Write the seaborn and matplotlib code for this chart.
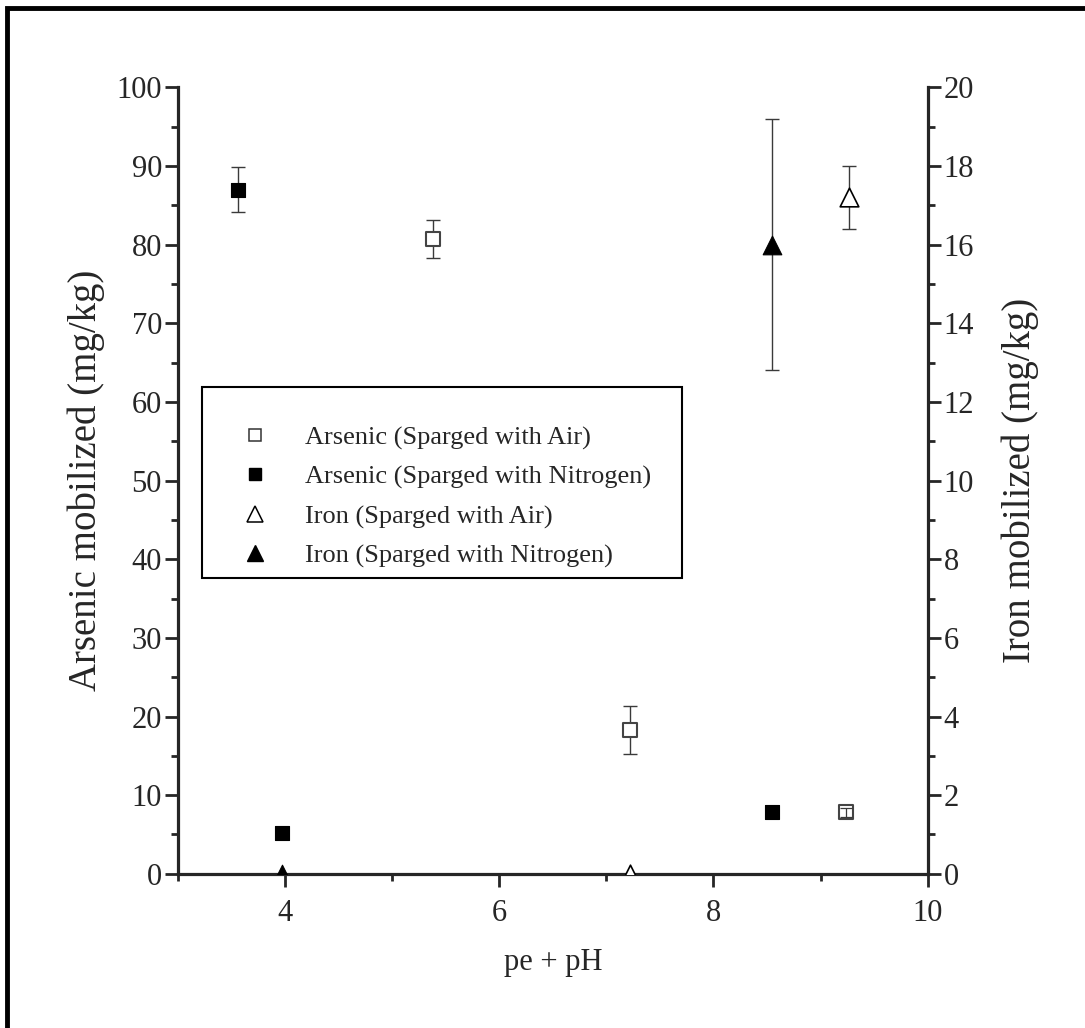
import matplotlib
matplotlib.use("Agg")
import matplotlib.pyplot as plt
import seaborn as sns
import pandas as pd
from matplotlib.patches import Rectangle
from matplotlib.lines import Line2D
from matplotlib.ticker import MultipleLocator

sns.set_style("ticks")
plt.rcParams['font.family'] = ['Liberation Serif', 'DejaVu Serif']

# Data
as_air_x = [5.38, 7.22, 9.24]
as_air_y = [80.7, 18.3, 7.8]
as_air_err = [2.4, 3.1, 0.6]

as_n2_x = [3.56, 3.97, 8.55]
as_n2_y = [87.0, 5.2, 7.8]
as_n2_err = [2.9, 0.0, 0.0]

fe_air_x = [9.27, 7.22]
fe_air_y = [17.2, 0.0]
fe_air_err = [0.8, 0.0]

fe_n2_x = [8.55, 3.97]
fe_n2_y = [16.0, 0.0]
fe_n2_err = [3.2, 0.0]

labels = ["Arsenic (Sparged with Air)", "Arsenic (Sparged with Nitrogen)",
          "Iron (Sparged with Air)", "Iron (Sparged with Nitrogen)"]

fig = plt.figure(figsize=(10.85, 10.28), dpi=100)
ax = fig.add_axes([0.164, 0.150, 0.691, 0.765])
ax2 = ax.twinx()


def draw_err(a, xs, ys, es, small_over=False):
    pts = [(x, y, e) for x, y, e in zip(xs, ys, es) if e > 0]
    for x, y, e in pts:
        if small_over and e < 1.0:
            a.errorbar([x], [y], yerr=[e], fmt='none', ecolor='#3a3a3a', elinewidth=0.9,
                       capsize=4.0, capthick=0.9, zorder=4)
        else:
            a.errorbar([x], [y], yerr=[e], fmt='none', ecolor='#3a3a3a', elinewidth=1.0,
                       capsize=4.7, capthick=1.0, zorder=1)


draw_err(ax, as_air_x, as_air_y, as_air_err, small_over=True)
draw_err(ax, as_n2_x, as_n2_y, as_n2_err)
draw_err(ax2, fe_air_x, fe_air_y, fe_air_err)
draw_err(ax2, fe_n2_x, fe_n2_y, fe_n2_err)

df_as_air = pd.DataFrame({"x": as_air_x, "y": as_air_y})
df_as_n2 = pd.DataFrame({"x": as_n2_x, "y": as_n2_y})
df_fe_air = pd.DataFrame({"x": fe_air_x, "y": fe_air_y})
df_fe_n2 = pd.DataFrame({"x": fe_n2_x, "y": fe_n2_y})

sns.scatterplot(data=df_as_air, x="x", y="y", ax=ax, marker='s', s=100,
                facecolor='white', edgecolor='#444444', linewidth=1.5, zorder=3)
sns.scatterplot(data=df_as_n2, x="x", y="y", ax=ax, marker='s', s=100,
                color='black', edgecolor='black', linewidth=0.8, zorder=3)
sns.scatterplot(data=df_fe_air, x="x", y="y", ax=ax2, marker='^', s=180,
                facecolor='white', edgecolor='black', linewidth=1.2, zorder=3)
sns.scatterplot(data=df_fe_n2, x="x", y="y", ax=ax2, marker='^', s=180,
                color='black', edgecolor='black', linewidth=0.8, zorder=3)

ax.set_xlim(3, 10)
ax.set_ylim(0, 100)
ax2.set_ylim(0, 20)
ax.xaxis.set_major_locator(MultipleLocator(2))
ax.xaxis.set_minor_locator(MultipleLocator(1))
ax.yaxis.set_major_locator(MultipleLocator(10))
ax.yaxis.set_minor_locator(MultipleLocator(5))
ax2.yaxis.set_major_locator(MultipleLocator(2))
ax2.yaxis.set_minor_locator(MultipleLocator(1))

for a in (ax, ax2):
    for s in a.spines.values():
        s.set_linewidth(2.3)
    a.spines['top'].set_visible(False)
    a.tick_params(which='major', length=9.5, width=2.0, labelsize=22, pad=2)
    a.tick_params(which='minor', length=5.0, width=2.0)
ax.spines['right'].set_visible(False)
ax2.spines['left'].set_visible(False)
ax2.spines['bottom'].set_visible(False)
ax.tick_params(axis='x', which='major', pad=9)

ax.set_xlabel("pe + pH", fontsize=22, labelpad=14)
ax.set_ylabel("Arsenic mobilized (mg/kg)", fontsize=28, labelpad=8)
ax2.set_ylabel("Iron mobilized (mg/kg)", fontsize=28, labelpad=20)

# legend box
box = Rectangle((0.032, 0.376), 0.64, 0.243, transform=ax2.transAxes, facecolor='white',
                edgecolor='black', linewidth=1.5, zorder=5)
ax2.add_patch(box)

handles = [
    Line2D([], [], marker='s', linestyle='none', markersize=8.6, markerfacecolor='white', markeredgecolor='#333333', markeredgewidth=1.1),
    Line2D([], [], marker='s', linestyle='none', markersize=8.6, markerfacecolor='black', markeredgecolor='black'),
    Line2D([], [], marker='^', linestyle='none', markersize=11, markerfacecolor='white', markeredgecolor='black', markeredgewidth=1.1),
    Line2D([], [], marker='^', linestyle='none', markersize=11, markerfacecolor='black', markeredgecolor='black'),
]
leg = ax2.legend(handles, labels, loc='upper left', bbox_to_anchor=(0.085, 0.5697),
                 fontsize=19, frameon=False, borderpad=0, borderaxespad=0,
                 handlelength=1.0, handletextpad=1.39, labelspacing=0.59)
leg.set_zorder(6)

fig.patches.append(Rectangle((0.0065, -0.1), 1.2, 0.1 + 0.9927, transform=fig.transFigure,
                             fill=False, edgecolor='black', linewidth=3.5))

fig.savefig("out.png", dpi=100, facecolor='white')
